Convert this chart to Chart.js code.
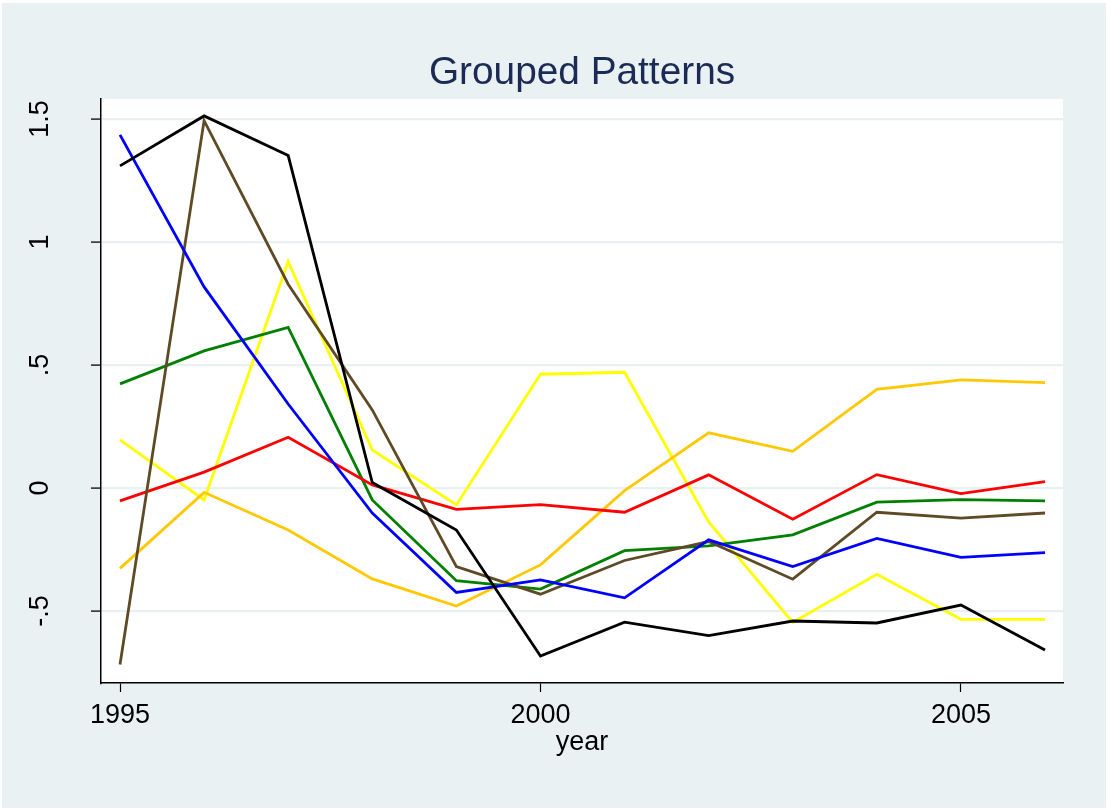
<!DOCTYPE html>
<html>
<head>
<meta charset="utf-8">
<script src="https://cdn.jsdelivr.net/npm/chart.js@4/dist/chart.umd.min.js"></script>
<style>
  html, body { margin: 0; padding: 0; background: #ffffff; }
  #wrap { width: 1108px; height: 810px; position: relative; }
</style>
</head>
<body>
<div id="wrap"><canvas id="c"></canvas></div>
<script>
// ---- data ----
const years = [1995, 1996, 1997, 1998, 1999, 2000, 2001, 2002, 2003, 2004, 2005, 2006];
const blueSeries   = [1.435, 0.817, 0.341, -0.102, -0.425, -0.374, -0.447, -0.211, -0.320, -0.205, -0.282, -0.263];
const blackSeries  = [1.309, 1.512, 1.351, 0.022, -0.171, -0.683, -0.546, -0.600, -0.541, -0.549, -0.476, -0.659];
const brownSeries  = [-0.718, 1.493, 0.828, 0.317, -0.320, -0.432, -0.295, -0.218, -0.371, -0.099, -0.123, -0.102];
const yellowSeries = [0.195, -0.049, 0.920, 0.154, -0.069, 0.462, 0.470, -0.138, -0.547, -0.351, -0.534, -0.534];
const goldSeries   = [-0.327, -0.018, -0.171, -0.370, -0.480, -0.313, -0.011, 0.224, 0.149, 0.401, 0.439, 0.428];
const greenSeries  = [0.423, 0.557, 0.652, -0.049, -0.377, -0.411, -0.255, -0.236, -0.191, -0.058, -0.048, -0.053];
const redSeries    = [-0.053, 0.064, 0.206, 0.012, -0.087, -0.068, -0.099, 0.053, -0.127, 0.054, -0.023, 0.026];

const xTickValues = [1995, 2000, 2005];
const yTickValues = [-0.5, 0, 0.5, 1, 1.5];
const yTickLabels = ['-.5', '0', '.5', '1', '1.5'];
const chartTitle = 'Grouped Patterns';
const xTitle = 'year';

// ---- chart ----
const FONT = "'Liberation Sans', Arial, Helvetica, sans-serif";

function mk(values, color) {
  return {
    data: years.map((y, i) => ({ x: y, y: values[i] })),
    borderColor: color,
    backgroundColor: color,
    borderWidth: 2.8,
    pointRadius: 0,
    tension: 0,
    fill: false
  };
}

const bgPlugin = {
  id: 'bg',
  beforeDraw(chart) {
    const ctx = chart.ctx;
    const a = chart.chartArea;
    ctx.save();
    ctx.fillStyle = '#ffffff';
    ctx.fillRect(0, 0, chart.width, chart.height);
    ctx.fillStyle = '#eaf1f3';
    ctx.fillRect(2, 3, chart.width - 4, chart.height - 5);
    ctx.fillStyle = '#ffffff';
    ctx.fillRect(a.left, a.top, a.right - a.left, a.bottom - a.top);
    ctx.restore();
  }
};

new Chart(document.getElementById('c'), {
  type: 'line',
  data: {
    datasets: [
      mk(blackSeries, '#000000'),
      mk(blueSeries, '#0000ff'),
      mk(brownSeries, '#5e4a25'),
      mk(redSeries, '#ff0000'),
      mk(greenSeries, '#008000'),
      mk(goldSeries, '#ffc800'),
      mk(yellowSeries, '#ffff00')
    ]
  },
  options: {
    responsive: true,
    maintainAspectRatio: false,
    animation: false,
    layout: { padding: { left: 0, right: 45, top: 0, bottom: 0 } },
    plugins: {
      legend: { display: false },
      tooltip: { enabled: false },
      title: {
        display: true,
        text: chartTitle,
        fullSize: false,
        color: '#1c2b55',
        font: { family: FONT, size: 38.8, weight: 'normal', lineHeight: 1.2 },
        padding: { top: 50.2, bottom: 2.2 }
      }
    },
    scales: {
      x: {
        type: 'linear',
        min: 1994.774,
        max: 2006.214,
        afterBuildTicks(scale) { scale.ticks = xTickValues.map(v => ({ value: v })); },
        afterFit(scale) { scale.height = 127; },
        border: { display: true, color: '#000000', width: 1.5 },
        grid: { drawOnChartArea: false, drawTicks: true, tickLength: 9, tickColor: '#000000', tickWidth: 1.2 },
        ticks: {
          color: '#000000',
          padding: 7,
          maxRotation: 0,
          font: { family: FONT, size: 27 },
          callback: (v) => String(v)
        },
        title: {
          display: true,
          text: xTitle,
          color: '#000000',
          font: { family: FONT, size: 27 },
          padding: { top: 0, bottom: 51 }
        }
      },
      y: {
        type: 'linear',
        min: -0.793,
        max: 1.581,
        afterBuildTicks(scale) { scale.ticks = yTickValues.map(v => ({ value: v })); },
        afterFit(scale) { scale.width = 101; },
        border: { display: true, color: '#000000', width: 1.5 },
        grid: { color: '#e9f0f2', lineWidth: 2.2, drawTicks: true, tickLength: 10, tickColor: '#222222', tickWidth: 1.5 },
        ticks: {
          color: '#000000',
          padding: 32,
          minRotation: 90,
          maxRotation: 90,
          crossAlign: 'center',
          font: { family: FONT, size: 27 },
          callback: (v) => {
            const i = yTickValues.findIndex(t => Math.abs(t - v) < 1e-9);
            return i >= 0 ? yTickLabels[i] : '';
          }
        }
      }
    }
  },
  plugins: [bgPlugin]
});
</script>
</body>
</html>
